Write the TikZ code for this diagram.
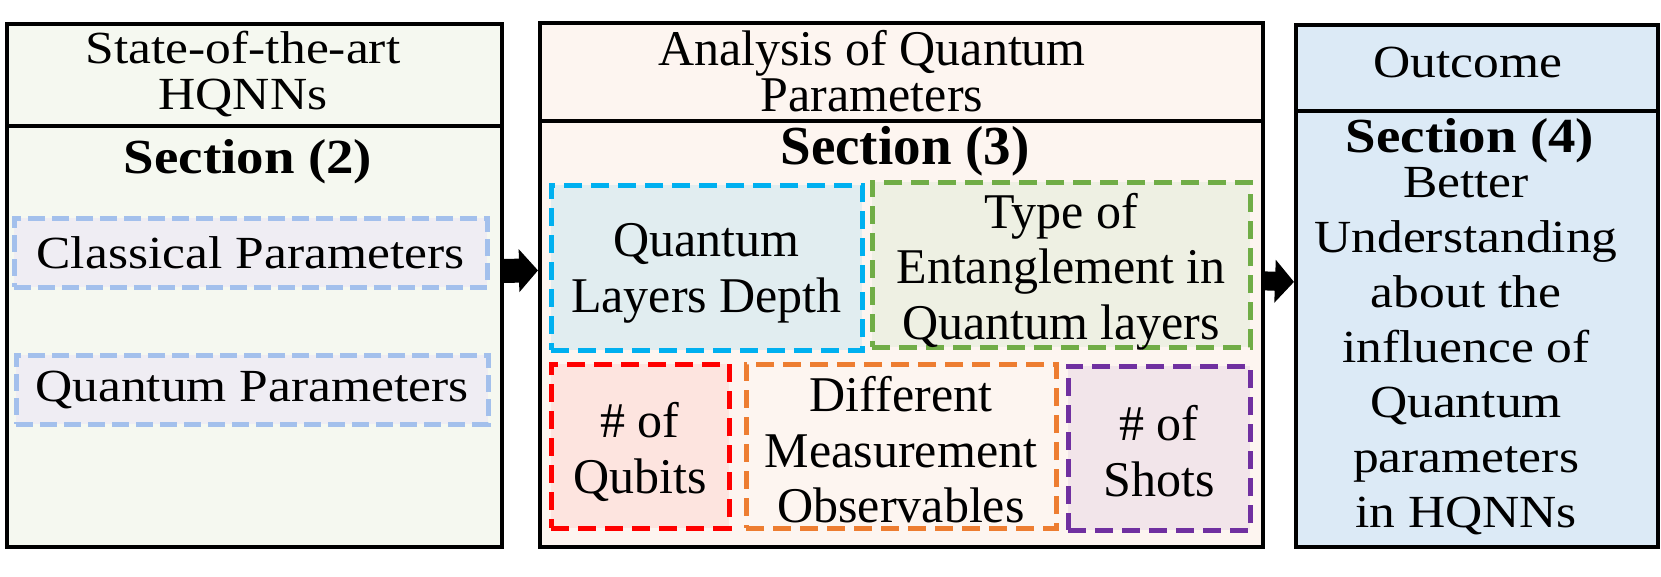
\documentclass[tikz,border=0pt]{standalone}
\usepackage{fontspec}
\setmainfont[FakeStretch=1.12]{Liberation Serif}
\newfontfamily\midfont{Liberation Serif}
\usetikzlibrary{positioning,arrows.meta}

\definecolor{leftfill}{HTML}{F5F8F0}
\definecolor{parfill}{HTML}{EFEDF3}
\definecolor{pardraw}{HTML}{A3C0EC}
\definecolor{midfill}{HTML}{FDF5F0}
\definecolor{rightfill}{HTML}{DCEAF6}
\definecolor{greenfill}{HTML}{EEF0E3}
\definecolor{qblue}{HTML}{00B0F0}
\definecolor{qgreen}{HTML}{70AD47}
\definecolor{qred}{HTML}{FF0000}
\definecolor{qorange}{HTML}{ED7D31}
\definecolor{qpurple}{HTML}{7030A0}

\tikzset{
  panel/.style={draw=black, line width=3.8pt, inner sep=0pt, anchor=north west},
  headtext/.style={font=\fontsize{46}{46}\selectfont, align=center, inner sep=0pt},
  sidetext/.style={font=\fontsize{46}{55}\selectfont, align=center, inner sep=0pt},
  midtext/.style={font=\midfont\fontsize{50}{55.6}\selectfont, align=center, inner sep=0pt},
  sectitle/.style={font=\bfseries\fontsize{49}{55}\selectfont, inner sep=0pt},
  parbox/.style={draw=pardraw, fill=parfill, line width=5pt, dash pattern=on 17pt off 7pt,
    inner sep=0pt, font=\fontsize{46}{55}\selectfont},
  qbox/.style={draw=#1, fill=#1!8!midfill, line width=5pt, dash pattern=on 18pt off 9pt,
    inner sep=0pt},
  flow/.style={line width=#1, -{Triangle[length=19pt 0 0, width=42pt 0 0]}}
}

\begin{document}
\begin{tikzpicture}[x=1pt, y=-1pt]
\useasboundingbox (0,0) rectangle (1661,576);

% left panel
\node[panel, fill=leftfill, minimum width=495pt, minimum height=523pt] (left) at (5,22) {};
\node[panel, fill=leftfill, minimum width=495pt, minimum height=102pt] (lefthead) at (5,22) {};
\node[headtext] (lefttitle) at (243,74) {State-of-the-art\\HQNNs};
\node[sectitle] (sec2) at (248,162) {Section (2)};
\node[parbox, minimum width=473pt, minimum height=69pt] (classic) at (250.5,252.5) {Classical Parameters};
\node[parbox, minimum width=472pt, minimum height=69pt] (quantum) at (252,389.5) {Quantum Parameters};

% middle panel
\node[panel, fill=midfill, minimum width=723pt, minimum height=524pt] (mid) at (538,21) {};
\node[panel, fill=midfill, minimum width=723pt, minimum height=98pt] (midhead) at (538,21) {};
\node[headtext, font=\midfont\fontsize{50}{46}\selectfont] (midtitle) at (872,71) {Analysis of Quantum\\Parameters};
\node[sectitle, font=\midfont\bfseries\fontsize{55}{60}\selectfont] (sec3) at (905,151) {Section (3)};
\node[qbox=qblue, fill=qblue!11!midfill, minimum width=311pt, minimum height=165pt] (depth) at (706.5,267.5) {};
\node[qbox=qgreen, fill=greenfill, minimum width=378pt, minimum height=165pt] (entangle) at (1061,264.5) {};
\node[qbox=qred, fill=qred!7!midfill, minimum width=178pt, minimum height=164pt] (qubits) at (640,446) {};
\node[qbox=qorange, fill=midfill, minimum width=310pt, minimum height=164pt] (observ) at (901,446) {};
\node[qbox=qpurple, minimum width=182pt, minimum height=164pt] (shots) at (1159,448) {};
\node[midtext] (depthtxt) at ([yshift=-6pt]depth.center) {Quantum\\Layers Depth};
\node[midtext] (entangletxt) at ([yshift=-7pt]entangle.center) {Type of\\Entanglement in\\Quantum layers};
\node[midtext] (qubitstxt) at ([yshift=-6pt]qubits.center) {\# of\\Qubits};
\node[midtext] (observtxt) at ([yshift=-4pt]observ.center) {Different\\Measurement\\Observables};
\node[midtext] (shotstxt) at ([yshift=-3pt]shots.center) {\# of\\Shots};

% right panel
\node[panel, fill=rightfill, minimum width=362pt, minimum height=522pt] (right) at (1294,23) {};
\node[panel, fill=rightfill, minimum width=362pt, minimum height=86pt] (righthead) at (1294,23) {};
\node[headtext] (righttitle) at (1468,62) {Outcome};
\node[sectitle] (sec4) at (1470,141) {Section (4)};
\node[sidetext] (result) at (1466,351)
  {Better\\Understanding\\about the\\influence of\\Quantum\\parameters\\in HQNNs};

% arrows
\draw[flow=24pt] ([yshift=14.5pt]left.east) -- ([yshift=14.5pt]mid.west);
\draw[flow=19pt] ([yshift=4pt]mid.east) -- ([yshift=4pt]right.west);
\end{tikzpicture}
\end{document}
